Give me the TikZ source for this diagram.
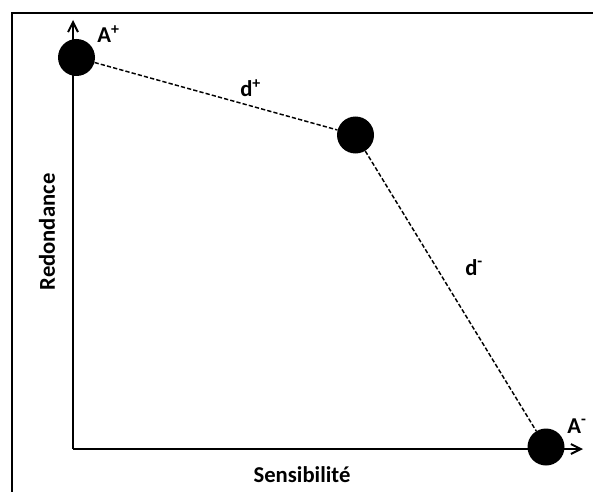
\documentclass[tikz,border=0pt]{standalone}
\usepackage{fontspec}
\setmainfont{Carlito}
\usetikzlibrary{arrows.meta}

\begin{document}
\begin{tikzpicture}[x=0.75pt,y=-0.75pt,>={Straight Barb[length=2.6mm,width=2.6mm]},
  font=\fontsize{17}{20}\selectfont\bfseries,
  pt/.style={circle,fill=black,inner sep=0pt,minimum size=27.75pt},
  lbl/.style={inner sep=0pt,anchor=base west}]
\useasboundingbox (0,0) rectangle (593,492);

% frame (cut on the right and bottom)
\draw[line width=1.5pt] (12,492) -- (12,13) -- (593,13);

% axes
\coordinate (o) at (73,449);
\coordinate (ytop) at (73,20);
\coordinate (xend) at (583,449);
\draw[->,line width=1.5pt] (o) -- (ytop);
\draw[->,line width=1.5pt] (o) -- (xend);
\node[inner sep=0pt,anchor=base] (sens) at (302,482) {Sensibilité};
\node[inner sep=0pt,rotate=90] (red) at (47,232) {Redondance};

% the three alternatives
\node[pt] (ap) at (76.5,57.5) {};
\node[pt] (mid) at (355.5,135) {};
\node[pt] (am) at (546,447) {};
\draw[line width=1.1pt,dash pattern=on 3.2pt off 1.6pt] (ap) -- (mid) -- (am);

% labels
\node[lbl] (lap) at (97,43) {A\textsuperscript{+}};
\node[lbl] (lam) at (567,433) {A\textsuperscript{-}};
\node[lbl] (dp) at (240,97) {d\textsuperscript{+}};
\node[lbl] (dm) at (465,275) {d\textsuperscript{-}};
\end{tikzpicture}
\end{document}
